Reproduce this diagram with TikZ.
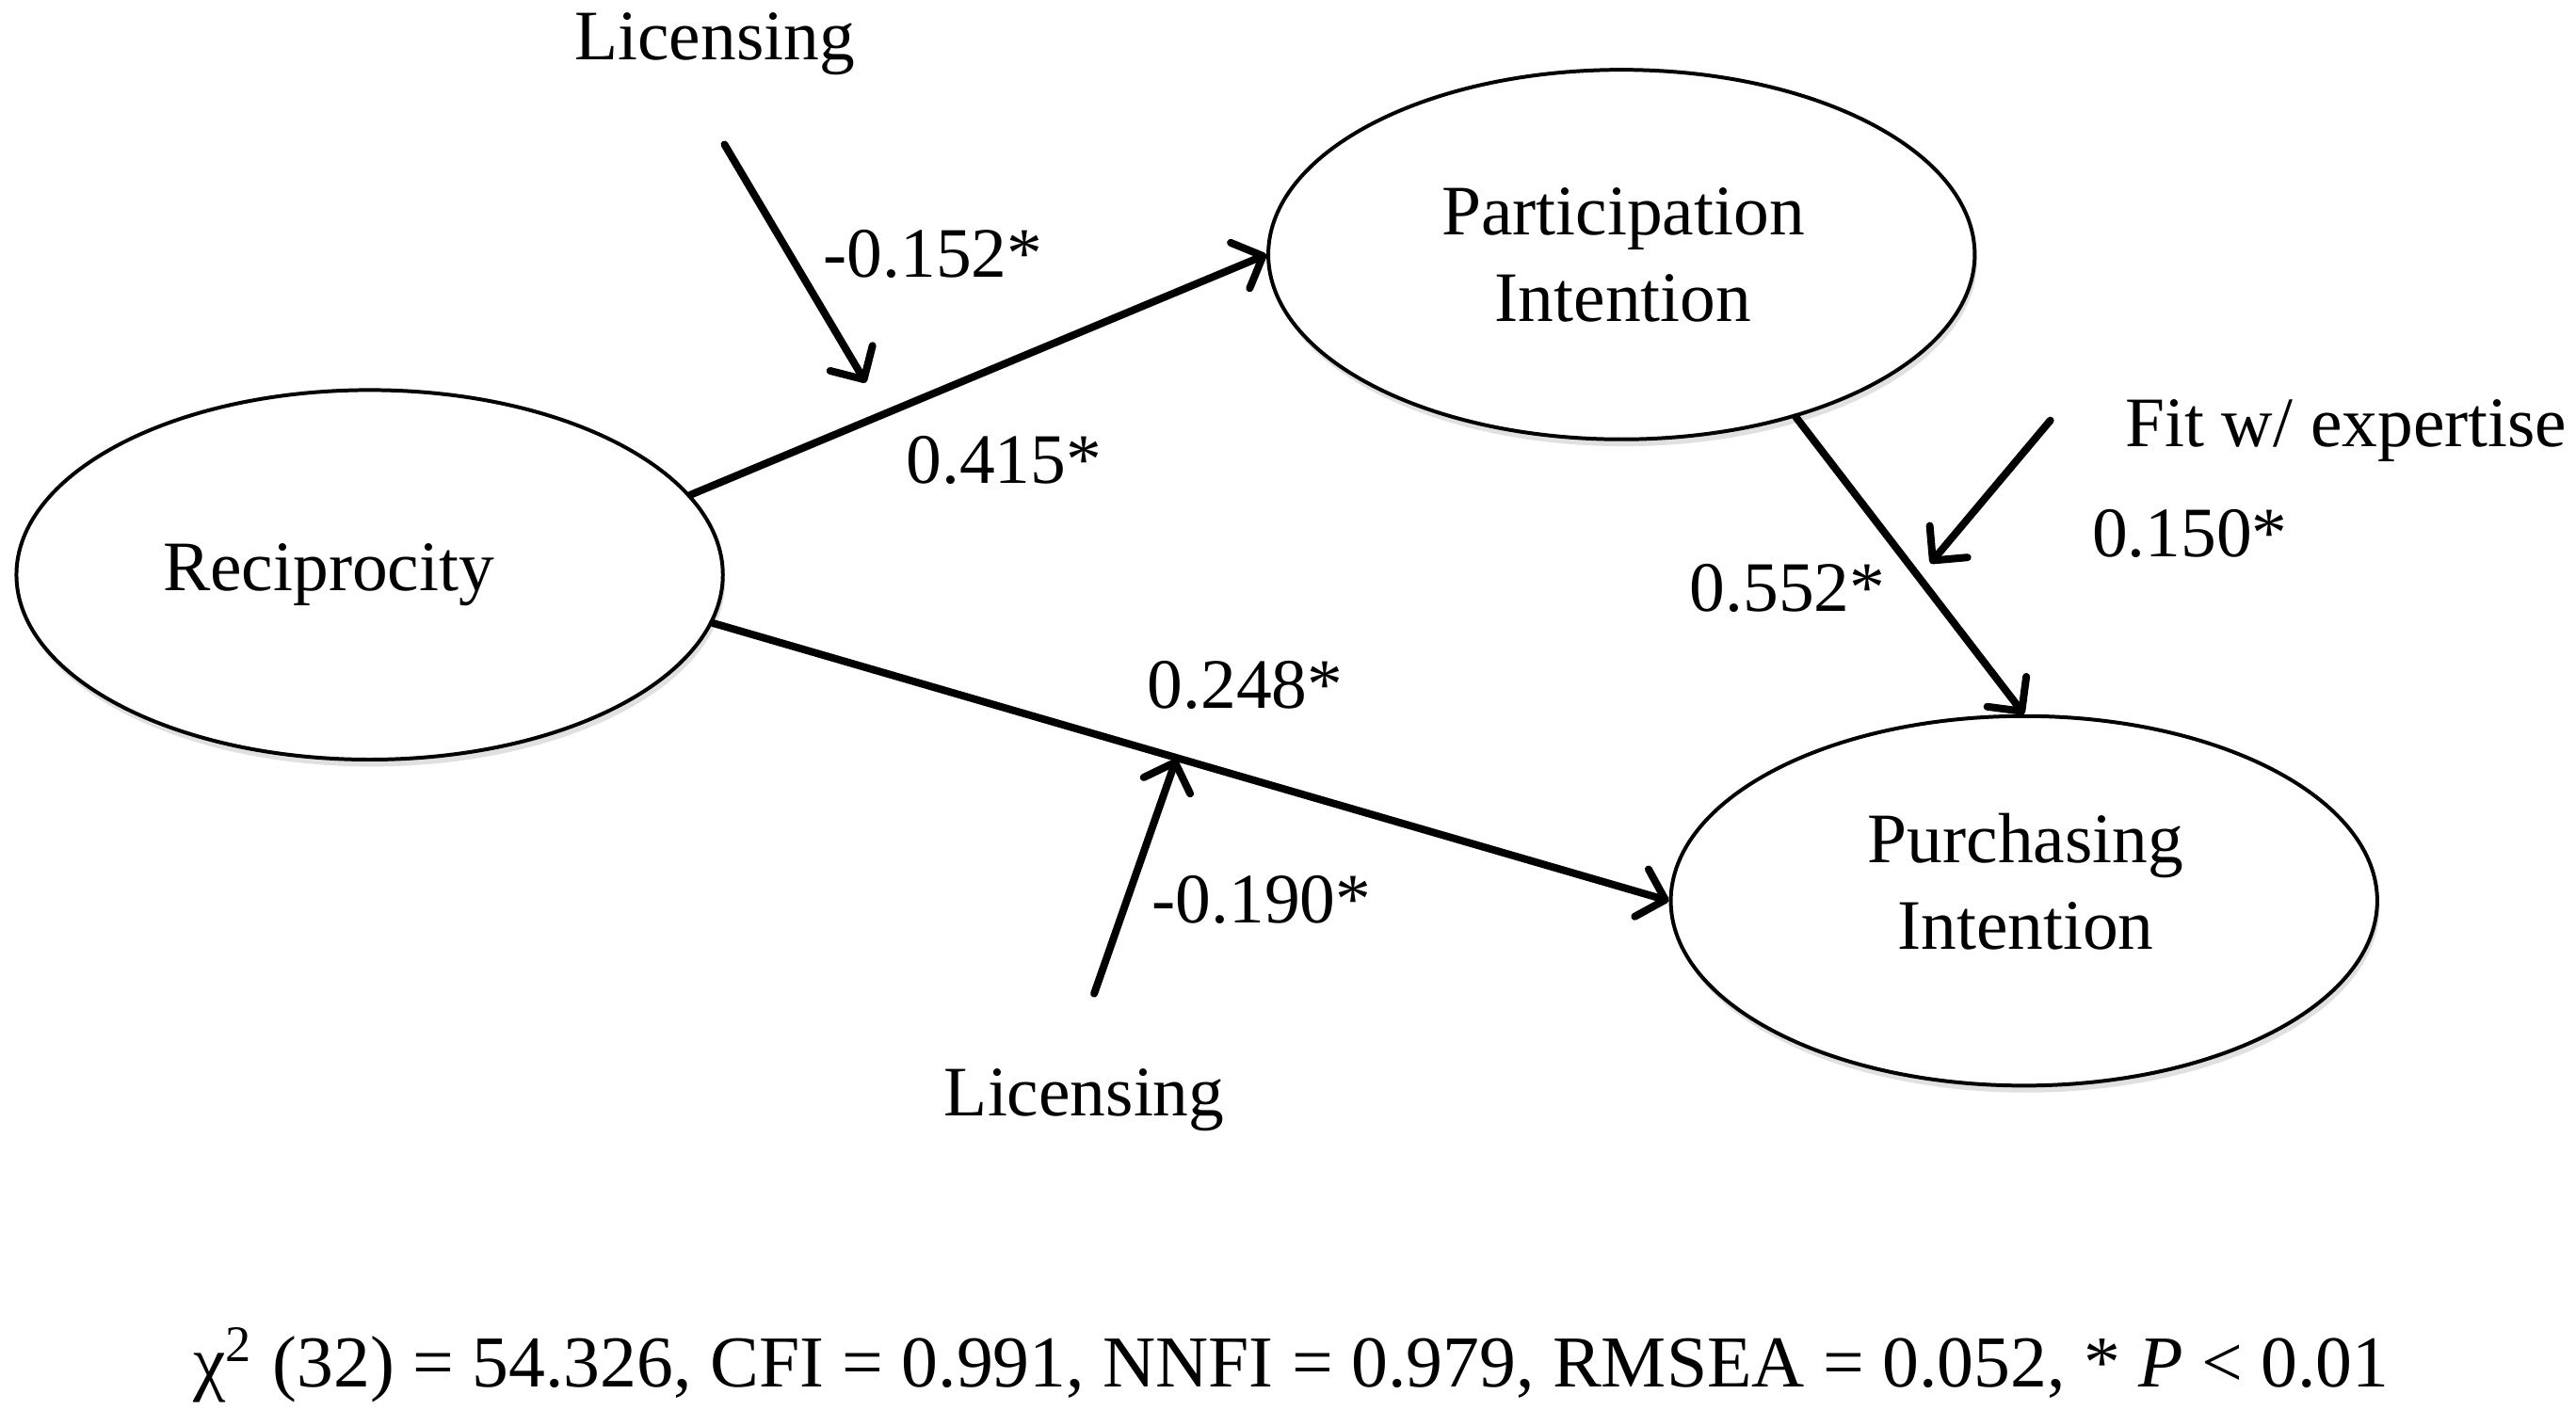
\documentclass[tikz,border=0pt]{standalone}
\usepackage{fontspec}
\setmainfont{Liberation Serif}
\usetikzlibrary{arrows.meta,shadows,shapes.geometric}
\begin{document}
\begin{tikzpicture}[x=1cm,y=1cm,
  font=\fontsize{12.3}{15}\selectfont,
  latent/.style={ellipse, draw, line width=0.65pt, fill=white, inner sep=0pt,
    minimum width=4.30cm, minimum height=2.25cm,
    drop shadow={shadow xshift=0.4pt, shadow yshift=-1.2pt, fill=black, opacity=0.12}},
  txt/.style={inner sep=0pt, align=center},
  path/.style={line width=1.3pt, line cap=round, -{Straight Barb[length=1.5mm,width=3.0mm,round]}},
  modpath/.style={line width=1.3pt, line cap=round, -{Straight Barb[length=1.5mm,width=3.0mm,round]}}
]
\useasboundingbox (0,0) rectangle (15.68,-8.585);

% latent variables
\node[latent] (rec) at (2.25,-3.50) {};
\node[latent] (par) at (9.87,-1.55) {};
\node[latent] (pur) at (12.32,-5.485) {};
\node[txt] (recl) at (2.00,-3.50) {Reciprocity};
\node[txt] (parl) at (9.88,-1.55) {Participation\\Intention};
\node[txt] (purl) at (12.33,-5.37) {Purchasing\\Intention};

% main paths
\draw[path] (rec.14.6) -- (par.180);
\draw[path] (rec.-8) -- (pur.180);
\draw[path] (par.-43) -- (pur.90);

% moderators
\node[txt] (lic1) at (4.35,-0.27) {Licensing};
\coordinate (lic1s) at (4.41,-0.88);
\coordinate (lic1e) at (5.27,-2.33);
\draw[modpath] (lic1s) -- (lic1e);

\node[txt] (lic2) at (6.60,-6.70) {Licensing};
\coordinate (lic2s) at (6.66,-6.05);
\coordinate (lic2e) at (7.16,-4.62);
\draw[modpath] (lic2s) -- (lic2e);

\node[txt] (fit) at (14.28,-2.62) {Fit w/ expertise};
\coordinate (fits) at (12.48,-2.56);
\coordinate (fite) at (11.75,-3.43);
\draw[modpath] (fits) -- (fite);

% coefficients
\node[txt] (c1) at (5.68,-1.55) {-0.152*};
\node[txt] (c2) at (6.11,-2.80) {0.415*};
\node[txt] (c3) at (7.58,-4.17) {0.248*};
\node[txt] (c4) at (7.68,-5.48) {-0.190*};
\node[txt] (c5) at (10.88,-3.58) {0.552*};
\node[txt] (c6) at (13.33,-3.25) {0.150*};

% fit statistics
\node[txt, font=\fontsize{12.67}{15}\selectfont] (stats) at (7.86,-8.31) {χ\textsuperscript{2} (32) = 54.326, CFI = 0.991, NNFI = 0.979, RMSEA = 0.052, * \textit{P} < 0.01};
\end{tikzpicture}
\end{document}
